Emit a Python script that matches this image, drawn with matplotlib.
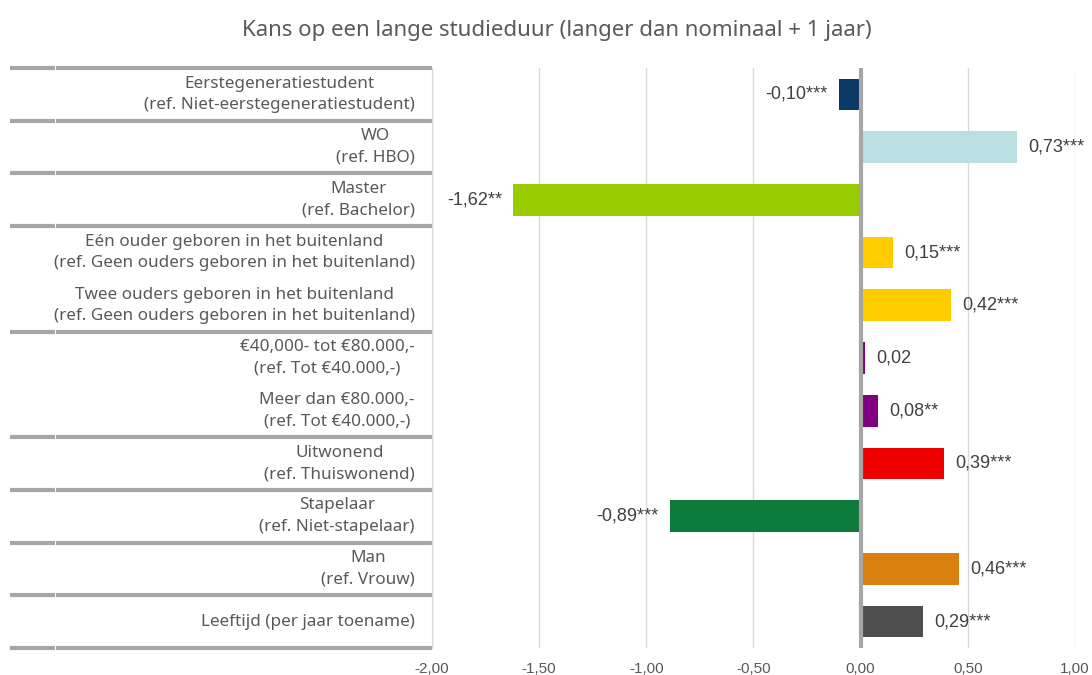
import matplotlib

matplotlib.use("Agg", force=True)
import matplotlib.pyplot as plt
from matplotlib import font_manager

# data
labels = [
    "Eerstegeneratiestudent\n(ref. Niet-eerstegeneratiestudent)",
    "WO\n(ref. HBO)",
    "Master\n(ref. Bachelor)",
    "Eén ouder geboren in het buitenland\n(ref. Geen ouders geboren in het buitenland)",
    "Twee ouders geboren in het buitenland\n(ref. Geen ouders geboren in het buitenland)",
    "€40,000- tot €80.000,-\n(ref. Tot €40.000,-)",
    "Meer dan €80.000,-\n(ref. Tot €40.000,-)",
    "Uitwonend\n(ref. Thuiswonend)",
    "Stapelaar\n(ref. Niet-stapelaar)",
    "Man\n(ref. Vrouw)",
    "Leeftijd (per jaar toename)",
]
values = [-0.10, 0.73, -1.62, 0.15, 0.42, 0.02, 0.08, 0.39, -0.89, 0.46, 0.29]
stars = ["***", "***", "**", "***", "***", "", "**", "***", "***", "***", "***"]
colors = ["#0b3864", "#b9dfe3", "#99cc00", "#ffcc00", "#ffcc00", "#800080",
          "#800080", "#ee0000", "#0b7a3b", "#d98010", "#4d4d4d"]
# group boundaries (row edges) for the separator lines on the left
group_edges = [-0.5, 0.5, 1.5, 2.5, 4.5, 6.5, 7.5, 8.5, 9.5, 10.5]
xticks = [-2.0, -1.5, -1.0, -0.5, 0.0, 0.5, 1.0]

names = {f.name for f in font_manager.fontManager.ttflist}
label_font = ["Noto Sans", "DejaVu Sans"]
narrow_font = ["Liberation Sans Narrow", "Liberation Sans", "DejaVu Sans"]
narrow_font = [f for f in narrow_font if f in names] or ["DejaVu Sans"]

fig = plt.figure(figsize=(10.92, 6.75), dpi=100)
ax = fig.add_axes([0.3956, 0.04, 0.5888, 0.8593])

ypos = list(range(len(values)))
ax.barh(ypos, values, height=0.6, color=colors, zorder=2)
ax.set_ylim(10.5, -0.5)
ax.set_xlim(-2.0, 1.0)

for y, v, s in zip(ypos, values, stars):
    txt = f"{v:.2f}".replace(".", ",") + s
    off = 8 if v >= 0 else -8
    ax.annotate(txt, (v, y), xytext=(off, 0), textcoords="offset points",
                ha="left" if v >= 0 else "right", va="center",
                fontsize=13, color="#404040", family=narrow_font)

ax.set_xticks(xticks)
ax.set_xticklabels([f"{t:.2f}".replace(".", ",") for t in xticks],
                   family=narrow_font, fontsize=11, color="#595959")
ax.tick_params(axis="x", length=0, pad=10)
ax.set_yticks([])
ax.grid(axis="x", color="#d9d9d9", linewidth=1, zorder=0)
for side in ["top", "right", "bottom"]:
    ax.spines[side].set_visible(False)
ax.spines["left"].set_color("#d9d9d9")
ax.axvline(0, color="#a6a6a6", linewidth=3, zorder=3)

trans = ax.get_yaxis_transform()
for e in group_edges:
    ax.plot([-0.656, -0.587], [e, e], transform=trans, color="#a6a6a6",
            linewidth=3, clip_on=False, solid_capstyle="butt")
    ax.plot([-0.585, 0.0], [e, e], transform=trans, color="#a6a6a6",
            linewidth=3, clip_on=False, solid_capstyle="butt")

for y, lab in zip(ypos, labels):
    ax.text(-0.027, y, lab, transform=trans, ha="right", va="center",
            multialignment="center", fontsize=12.3, color="#595959",
            family=label_font, linespacing=1.45)

fig.text(0.51, 0.955, "Kans op een lange studieduur (langer dan nominaal + 1 jaar)",
         ha="center", va="center", fontsize=16, color="#595959", family=label_font)

fig.savefig("out.png", dpi=100)
